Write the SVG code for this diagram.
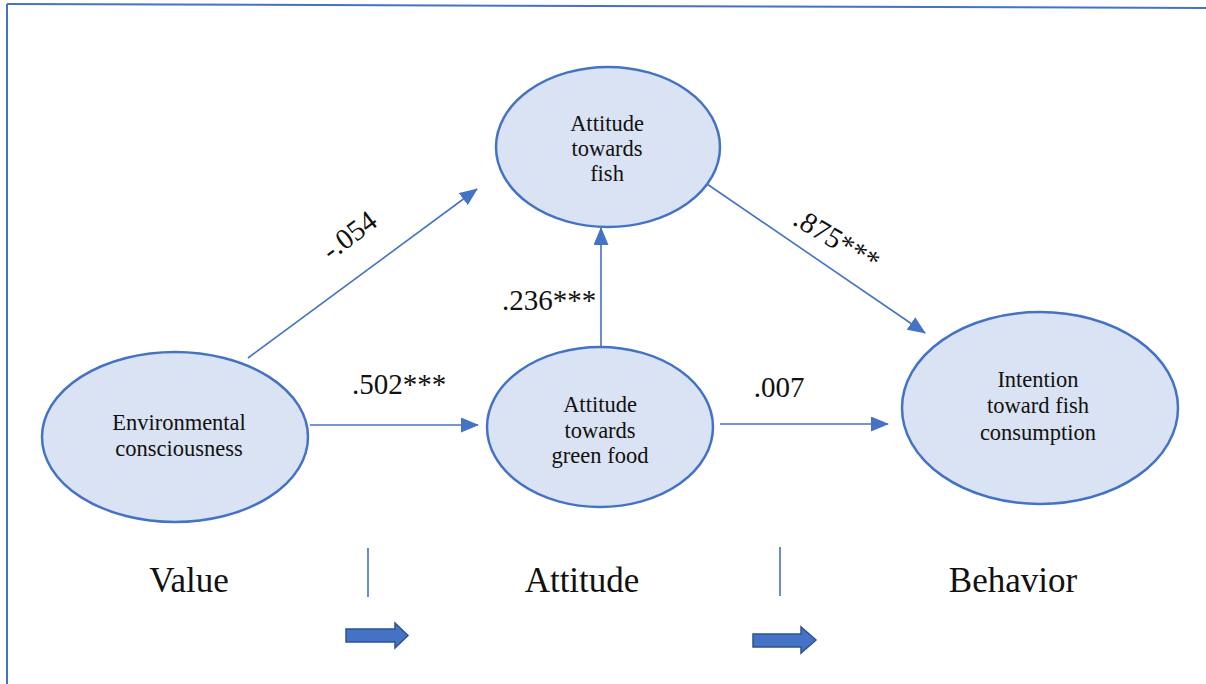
<svg xmlns="http://www.w3.org/2000/svg" width="1206" height="684" viewBox="0 0 1206 684">
<style>
.node{fill:#DAE3F3;stroke:#4472C4;stroke-width:2.5}
.edge{stroke:#4472C4;stroke-width:1.6;fill:none}
text{font-family:'Liberation Serif','Times New Roman',Tinos,'DejaVu Serif',serif;fill:#111;text-anchor:middle}
.nt{font-size:22.5px}
.lbl{font-size:29px}
.cat{font-size:35px}
.blk{fill:#4472C4;stroke:#2F528F;stroke-width:1.5}
</style>
<defs>
<marker id="ahb" markerWidth="18" markerHeight="15" refX="17" refY="7.5" orient="auto" markerUnits="userSpaceOnUse" viewBox="0 0 18 15">
<path d="M0,0 L18,7.5 L0,15 Z" fill="#4472C4"/>
</marker>
</defs>
<rect width="1206" height="684" fill="#fff"/>
<g id="frame" stroke="#4472C4" stroke-width="2" fill="none">
<line x1="7" y1="4" x2="1206" y2="8"/>
<line x1="7" y1="4" x2="7" y2="684"/>
</g>
<g id="connectors">
<line class="edge" x1="248" y1="358" x2="477" y2="189" marker-end="url(#ahb)"/>
<line class="edge" x1="310" y1="425" x2="478" y2="425" marker-end="url(#ahb)"/>
<line class="edge" x1="601" y1="350" x2="601" y2="228" marker-end="url(#ahb)"/>
<line class="edge" x1="720" y1="424" x2="888" y2="424" marker-end="url(#ahb)"/>
<line class="edge" x1="707" y1="184" x2="925" y2="333" marker-end="url(#ahb)"/>
<text class="lbl" transform="translate(355,243) rotate(-37)">-.054</text>
<text class="lbl" x="399" y="394">.502***</text>
<text class="lbl" x="549" y="310">.236***</text>
<text class="lbl" x="779" y="397">.007</text>
<text class="lbl" transform="translate(832,248) rotate(31)">.875***</text>
</g>
<g id="n-env">
<ellipse class="node" cx="175" cy="437" rx="133" ry="85"/>
<text class="nt" x="179" y="430">Environmental</text>
<text class="nt" x="179" y="456">consciousness</text>
</g>
<g id="n-green">
<ellipse class="node" cx="600" cy="427" rx="113" ry="80"/>
<text class="nt" x="600" y="412">Attitude</text>
<text class="nt" x="600" y="438">towards</text>
<text class="nt" x="600" y="463">green food</text>
</g>
<g id="n-fish">
<ellipse class="node" cx="608" cy="147" rx="112" ry="80"/>
<text class="nt" x="607" y="131">Attitude</text>
<text class="nt" x="607" y="156">towards</text>
<text class="nt" x="607" y="181">fish</text>
</g>
<g id="n-intent">
<ellipse class="node" cx="1040" cy="408" rx="138" ry="96"/>
<text class="nt" x="1038" y="387">Intention</text>
<text class="nt" x="1038" y="413">toward fish</text>
<text class="nt" x="1038" y="440">consumption</text>
</g>
<g id="stages">
<text class="cat" x="189" y="592">Value</text>
<text class="cat" x="582" y="592">Attitude</text>
<text class="cat" x="1013" y="592">Behavior</text>
<line x1="368" y1="548" x2="368" y2="597" stroke="#4472C4" stroke-width="1.6"/>
<line x1="780" y1="547" x2="780" y2="596" stroke="#4472C4" stroke-width="1.6"/>
<path class="blk" d="M346,629 L395,629 L395,623 L408,635.5 L395,648 L395,642 L346,642 Z"/>
<path class="blk" d="M753,634 L801,634 L801,627 L816,640 L801,653 L801,647 L753,647 Z"/>
</g>
</svg>
